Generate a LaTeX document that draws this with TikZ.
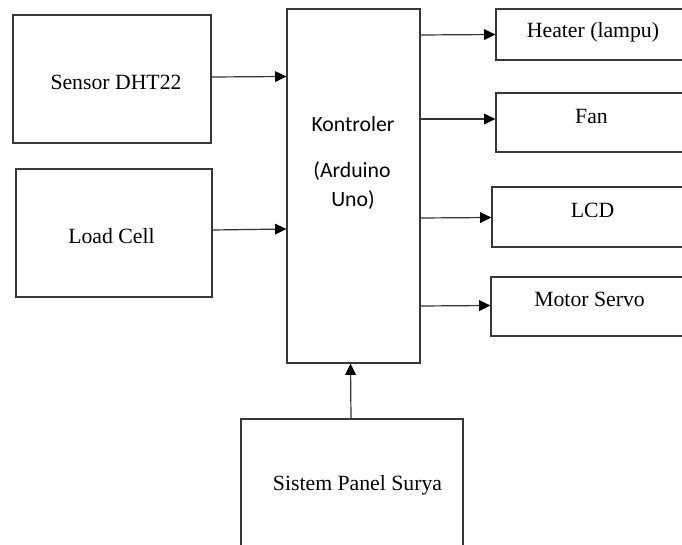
\documentclass[tikz,border=0pt]{standalone}
\usepackage{fontspec}
\setmainfont{Liberation Serif}
\newfontfamily\calib{Carlito}
\usetikzlibrary{fit,arrows.meta}
\begin{document}
\begin{tikzpicture}[x=0.75pt,y=-0.75pt,
  box/.style={draw=black!78,line width=0.9pt,inner sep=0pt},
  lbl/.style={inner sep=0pt,font=\fontsize{16.3}{19}\selectfont},
  klbl/.style={inner sep=0pt,font=\calib\fontsize{16.3}{19}\selectfont},
  arr/.style={draw=black!80,line width=0.9pt,-{Triangle[length=8.5pt,width=8pt,color=black]}}]
\useasboundingbox (0,0) rectangle (682,545);
\clip (0,0) rectangle (682,545);
% boxes
\node[box, fit={(13,15) (211,143)}] (sensor) {};
\node[box, fit={(16,169) (212,297)}] (load) {};
\node[box, fit={(287,9) (420,363)}] (ctrl) {};
\node[box, fit={(496,9) (720,60)}] (heater) {};
\node[box, fit={(496,93) (720,152)}] (fan) {};
\node[box, fit={(492,187) (720,247)}] (lcd) {};
\node[box, fit={(491,277) (720,336)}] (servo) {};
\node[box, fit={(241,419) (463,590)}] (panel) {};
% texts
\node[lbl] (tsensor) at (116,82) {Sensor DHT22};
\node[lbl] (tload) at (111.5,236) {Load Cell};
\node[klbl] (tk1) at (353,124) {Kontroler};
\node[klbl] (tk2) at (352,171) {(Arduino};
\node[klbl] (tk3) at (353,200) {Uno)};
\node[lbl] (theater) at (593,32) {Heater (lampu)};
\node[lbl] (tfan) at (591.5,116) {Fan};
\node[lbl] (tlcd) at (592.5,210) {LCD};
\node[lbl] (tservo) at (589.5,299.5) {Motor Servo};
\node[lbl] (tpanel) at (357.5,485.5) {Sistem Panel Surya};
% arrows
\draw[arr] (sensor.east |- 0,77) -- (ctrl.west |- 0,76.5);
\draw[arr] (load.east |- 0,230) -- (ctrl.west |- 0,229);
\draw[arr] (ctrl.east |- 0,35) -- (heater.west |- 0,34.5);
\draw[arr] (ctrl.east |- 0,119) -- (fan.west |- 0,119);
\draw[arr] (ctrl.east |- 0,218) -- (lcd.west |- 0,217.5);
\draw[arr] (ctrl.east |- 0,306) -- (servo.west |- 0,305.5);
\draw[arr] (panel.north -| 351,0) -- (ctrl.south -| 350.5,0);
\end{tikzpicture}
\end{document}
